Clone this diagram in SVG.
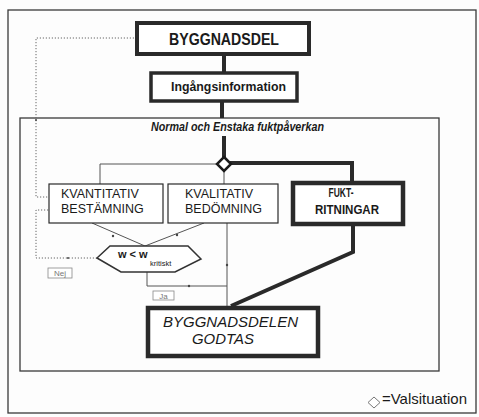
<svg xmlns="http://www.w3.org/2000/svg" width="479" height="417" viewBox="0 0 479 417">
<style>
.frame{fill:none;stroke:#3a3a3a;stroke-width:1.3}
.box{fill:#fff;stroke:#2a2a2a}
.thin{fill:none;stroke:#555;stroke-width:1}
.thick{fill:none;stroke:#2a2a2a;stroke-width:4;stroke-linejoin:miter}
.dot{fill:none;stroke:#666;stroke-width:1;stroke-dasharray:1.2 1.8}
.bold{font-family:"Liberation Sans",Arial,sans-serif;font-weight:bold;fill:#1a1a1a}
.reg{font-family:"Liberation Sans",Arial,sans-serif;fill:#1a1a1a}
.lbl{fill:#fff;stroke:#888;stroke-width:0.8}
.lt{font-family:"Liberation Sans",Arial,sans-serif;font-size:8px;fill:#777}
</style>
<rect width="479" height="417" fill="#fdfdfd"/>
<rect class="frame" x="8" y="10" width="468" height="403"/>
<rect class="frame" x="20" y="118" width="419" height="253"/>
<text class="bold" x="151" y="131" font-size="12.5" font-style="italic" textLength="173" lengthAdjust="spacingAndGlyphs">Normal och Enstaka fuktpåverkan</text>

<g id="connectors">
  <line class="thick" x1="224" y1="54" x2="224" y2="73" stroke-width="3"/>
  <line class="thick" x1="222" y1="101" x2="222" y2="118" stroke-width="3"/>
  <line class="thick" x1="224" y1="136" x2="224" y2="158" stroke-width="3.5"/>
  <polyline class="thin" points="218,164 100,164 100,184"/>
  <line class="thin" x1="224" y1="171" x2="224" y2="184"/>
  <polyline class="thick" points="230,163 352,163 352,183"/>
  <polyline class="thin" points="92,223 145,246 204,223"/>
  <line class="thin" x1="227" y1="223" x2="227" y2="307"/>
  <polyline class="thin" points="147,272 147,286 227,286"/>
  <polyline class="thick" points="353,224 353,252 231,306"/>
  <polyline class="dot" points="137,38 36,38 36,197 49,197"/>
  <polyline class="dot" points="97,258 36,258 36,210 49,210"/>
  <g fill="#444">
    <circle cx="113" cy="236" r="1.2"/>
    <circle cx="177" cy="235" r="1.2"/>
    <circle cx="227" cy="265" r="1.2"/>
    <circle cx="189" cy="286" r="1.2"/>
    <circle cx="36" cy="120" r="1"/>
    <circle cx="68" cy="258" r="1"/>
  </g>
</g>

<g id="byggnadsdel">
  <rect class="box" x="137" y="23" width="172" height="31" stroke-width="4"/>
  <text class="bold" x="224" y="45" font-size="17" text-anchor="middle" textLength="110" lengthAdjust="spacingAndGlyphs">BYGGNADSDEL</text>
</g>
<g id="ingangsinformation">
  <rect class="box" x="151" y="73" width="146" height="28" stroke-width="3.5"/>
  <text class="bold" x="171" y="91" font-size="13" textLength="115" lengthAdjust="spacingAndGlyphs">Ingångsinformation</text>
</g>
<g id="valsituation">
  <polygon points="224,157 231,164 224,171 217,164" fill="#fff" stroke="#1a1a1a" stroke-width="2.5"/>
</g>
<g id="kvantitativ">
  <rect class="box" x="49" y="184" width="114" height="39" stroke-width="1.2"/>
  <text class="reg" x="61" y="198" font-size="12.5">KVANTITATIV</text>
  <text class="reg" x="61" y="213" font-size="12.5">BESTÄMNING</text>
</g>
<g id="kvalitativ">
  <rect class="box" x="168" y="184" width="110" height="39" stroke-width="1.2"/>
  <text class="reg" x="185" y="198" font-size="12.5">KVALITATIV</text>
  <text class="reg" x="185" y="213" font-size="12.5">BEDÖMNING</text>
</g>
<g id="fuktritningar">
  <rect class="box" x="293" y="183" width="110" height="41" stroke-width="4.5"/>
  <text class="bold" x="341" y="197" font-size="13.5" text-anchor="middle" textLength="25" lengthAdjust="spacingAndGlyphs">FUKT-</text>
  <text class="bold" x="347" y="214" font-size="13.5" text-anchor="middle" textLength="64" lengthAdjust="spacingAndGlyphs">RITNINGAR</text>
</g>
<g id="villkor">
  <polygon points="97,258 110,246 188,246 201,259 175,272 121,272" fill="#fff" stroke="#333" stroke-width="1.5"/>
  <text class="bold" x="118" y="258" font-size="11">w &lt; w</text>
  <text class="reg" x="150" y="266" font-size="7.5">kritiskt</text>
</g>
<g id="nej">
  <rect class="lbl" x="48" y="268" width="24" height="10"/>
  <text class="lt" x="60" y="276" text-anchor="middle">Nej</text>
</g>
<g id="ja">
  <rect class="lbl" x="153" y="291" width="21" height="9"/>
  <text class="lt" x="163.5" y="298.5" text-anchor="middle">Ja</text>
</g>
<g id="godtas">
  <rect class="box" x="148" y="308" width="170" height="48" stroke-width="4.5"/>
  <text class="reg" x="163" y="327" font-size="15.5" font-style="italic" textLength="135" lengthAdjust="spacingAndGlyphs">BYGGNADSDELEN</text>
  <text class="reg" x="192" y="344" font-size="15.5" font-style="italic" textLength="62" lengthAdjust="spacingAndGlyphs">GODTAS</text>
</g>
<g id="legend">
  <polygon points="374,397 380,402.5 374,408 368,402.5" fill="#fff" stroke="#777" stroke-width="1"/>
  <text class="reg" x="382" y="404" font-size="14.5" textLength="85" lengthAdjust="spacingAndGlyphs">=Valsituation</text>
</g>
</svg>
